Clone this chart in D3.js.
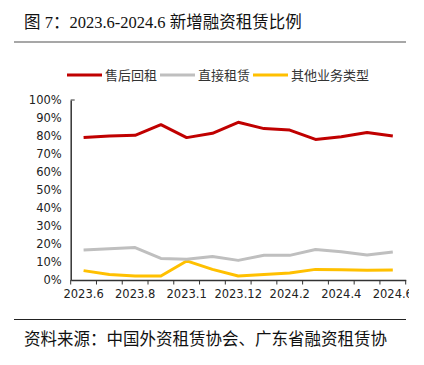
<!DOCTYPE html>
<html><head><meta charset="utf-8">
<script src="https://cdn.jsdelivr.net/npm/d3@7"></script>
<style>
body{margin:0;background:#fff;}
svg{display:block;}
</style></head>
<body>
<svg id="c" width="424" height="365"></svg>
<script>
const categories = ["2023.6","2023.7","2023.8","2023.9","2023.10","2023.11","2023.12","2024.1","2024.2","2024.3","2024.4","2024.5","2024.6"];
const tickLabels = ["2023.6","","2023.8","","2023.1","","2023.12","","2024.2","","2024.4","","2024.6"];
const leaseback = [79.1,80.0,80.4,86.3,79.1,81.5,87.6,84.1,83.3,78.1,79.6,81.9,80.0];
const direct = [16.7,17.4,18.0,12.0,11.5,13.0,10.9,13.7,13.7,16.9,15.7,13.9,15.6];
const other = [5.2,3.0,2.2,2.2,10.6,5.9,2.2,3.1,3.9,5.9,5.7,5.4,5.6];
const seriesNames = ["售后回租","直接租赁","其他业务类型"];
const colors = ["#C00000","#BFBFBF","#FFC000"];
const yTicks = [0,10,20,30,40,50,60,70,80,90,100];

const svg = d3.select("#c");
const cjk = '"Noto Sans CJK SC","Noto Sans",sans-serif';

// title
svg.append("text").attr("x",24).attr("y",28)
  .style("font-family",'"Liberation Serif","Noto Sans CJK SC",serif')
  .style("font-size","16.5px").attr("fill","#111")
  .text("图 7：2023.6-2024.6 新增融资租赁比例");
svg.append("line").attr("x1",14).attr("x2",406).attr("y1",42).attr("y2",42)
  .attr("stroke","#8a8a8a").attr("stroke-width",1.5);

// legend
const legX = [[67,105],[160,198],[253,291]];
seriesNames.forEach((n,i)=>{
  svg.append("line").attr("x1",legX[i][0]).attr("x2",legX[i][0]+35).attr("y1",75).attr("y2",75)
    .attr("stroke",colors[i]).attr("stroke-width",3);
  svg.append("text").attr("x",legX[i][1]).attr("y",79.5)
    .style("font-family",cjk).style("font-size","13px").attr("fill","#333").text(n);
});

const x = d3.scaleBand().domain(categories).range([70.7,405.7]).padding(0);
const y = d3.scaleLinear().domain([0,100]).range([280,100]);
const cx = d => x(d)+x.bandwidth()/2;

// y axis
const ya = svg.append("g").attr("transform","translate(70.7,0)")
  .call(d3.axisLeft(y).tickValues(yTicks).tickSize(0).tickPadding(9).tickFormat(d=>d+"%"));
ya.select(".domain").attr("stroke","#333").attr("stroke-width",1.5);
ya.selectAll("text").style("font-family",'"DejaVu Sans",sans-serif').style("font-size","11.5px").attr("fill","#222");
ya.append("line").attr("x1",0).attr("x2",4).attr("y1",y(100)).attr("y2",y(100)).attr("stroke","#333").attr("stroke-width",1);

// x axis
svg.append("clipPath").attr("id","xc").append("rect").attr("x",0).attr("y",-10).attr("width",409).attr("height",40);
const xa = svg.append("g").attr("transform","translate(0,280)").attr("clip-path","url(#xc)")
  .call(d3.axisBottom(x).tickSize(0).tickPadding(10).tickFormat((d,i)=>tickLabels[i]));
xa.select(".domain").attr("stroke","#333").attr("stroke-width",1.5);
xa.selectAll("text").style("font-family",'"DejaVu Sans",sans-serif').style("font-size","11.5px").attr("fill","#222");
const bounds = categories.map(d=>x(d)).concat([x.range()[1]]);
svg.append("g").selectAll("line").data(bounds).join("line")
  .attr("x1",d=>d).attr("x2",d=>d).attr("y1",280).attr("y2",284.5)
  .attr("stroke","#333").attr("stroke-width",1);

// lines
const line = d3.line().x((v,i)=>cx(categories[i])).y(v=>y(v));
[other,direct,leaseback].forEach((s,k)=>{
  const i = 2-k;
  svg.append("path").datum(s).attr("d",line).attr("fill","none")
    .attr("stroke",colors[i]).attr("stroke-width",3).attr("stroke-linejoin","round");
});

// source
svg.append("line").attr("x1",14).attr("x2",406).attr("y1",319.5).attr("y2",319.5)
  .attr("stroke","#222").attr("stroke-width",1);
svg.append("text").attr("x",24).attr("y",345)
  .style("font-family",cjk).style("font-size","16.5px").attr("fill","#111")
  .text("资料来源：中国外资租赁协会、广东省融资租赁协");
</script>
</body></html>
